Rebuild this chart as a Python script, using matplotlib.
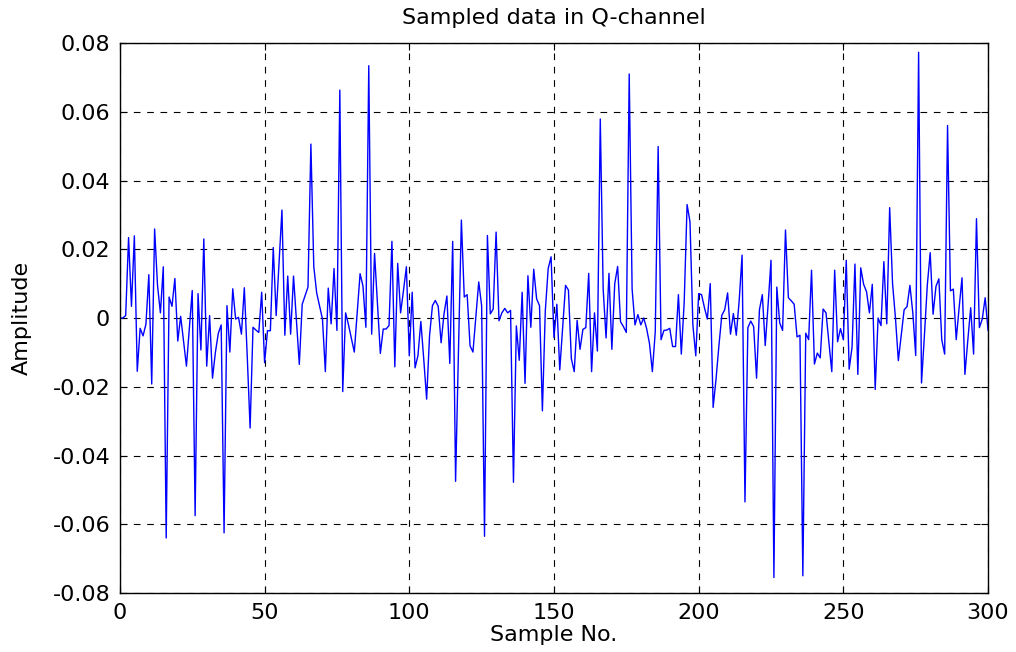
import numpy as np
import matplotlib
matplotlib.use("Agg")
import matplotlib.pyplot as plt

# Q-channel samples, index 0..300
q_samples = [
    0.0, 0.0, 0.0007, 0.0234, 0.0034, 0.0239, -0.0155, -0.003, -0.0052, -0.0018,
    0.0126, -0.0192, 0.0259, 0.0095, 0.0015, 0.0149, -0.064, 0.0061, 0.0034, 0.0115,
    -0.0067, 0.0005, -0.0068, -0.014, -0.003, 0.008, -0.0575, 0.0071, -0.0093, 0.023,
    -0.014, 0.0007, -0.0175, -0.01, -0.0045, -0.002, -0.0625, 0.0036, -0.0099, 0.0085,
    -0.0003, 0.0002, -0.0047, 0.0088, -0.011, -0.032, -0.0027, -0.0035, -0.0042, 0.0075,
    -0.013, -0.0037, -0.0037, 0.0205, 0.0007, 0.016, 0.0314, -0.005, 0.0122, -0.0047,
    0.0122, -0.0007, -0.0135, 0.004, 0.0065, 0.009, 0.0506, 0.015, 0.0073, 0.0035,
    -0.0003, -0.0156, 0.0087, -0.0017, 0.0144, -0.0036, 0.0663, -0.0214, 0.0015, -0.002,
    -0.006, -0.0099, 0.0015, 0.0129, 0.0093, -0.0027, 0.0734, -0.0047, 0.0188, 0.004,
    -0.0103, -0.0032, -0.0032, -0.0022, 0.0223, -0.0142, 0.0159, 0.0015, 0.008, 0.0149,
    -0.011, 0.0075, -0.0145, -0.0109, -0.001, -0.012, -0.0236, -0.0052, 0.0036, 0.0051,
    0.0034, -0.0072, 0.0012, 0.0064, -0.0132, 0.0223, -0.0475, -0.0095, 0.0285, 0.0061,
    0.0068, -0.0081, -0.0099, 0.0003, 0.0105, 0.0036, -0.0635, 0.024, 0.0012, 0.0026,
    0.025, -0.0008, 0.0015, 0.0028, 0.0015, 0.0022, -0.0478, -0.0023, -0.0123, 0.0075,
    -0.019, 0.0123, -0.0027, 0.0142, 0.0056, 0.0036, -0.027, 0.002, 0.0144, 0.0178,
    -0.0057, 0.004, -0.0151, -0.003, 0.0095, 0.0081, -0.0118, -0.0156, -0.0007, -0.0091,
    -0.0033, -0.0028, 0.013, -0.0156, 0.0015, -0.0096, 0.0579, 0.0084, -0.0058, 0.013,
    -0.0091, 0.01, 0.015, -0.0011, -0.0025, -0.0042, 0.071, 0.0084, -0.002, 0.001,
    -0.002, 0.0, -0.003, -0.0074, -0.0156, -0.004, 0.0499, -0.0063, -0.0036, -0.0035,
    -0.003, -0.0083, -0.0083, 0.0068, -0.0105, 0.0046, 0.033, 0.028, -0.002, -0.011,
    0.0071, 0.0068, 0.003, -0.0003, 0.01, -0.026, -0.0178, -0.008, 0.0008, 0.0024,
    0.0073, -0.0047, 0.0013, -0.005, 0.0051, 0.0183, -0.0535, -0.0028, -0.0009, -0.0025,
    -0.0175, 0.0024, 0.0068, -0.008, 0.004, 0.0168, -0.0755, 0.009, -0.0014, -0.0036,
    0.0256, 0.0059, 0.005, 0.004, -0.0055, -0.005, -0.075, -0.0044, -0.0063, 0.0139,
    -0.0134, -0.0102, -0.0116, 0.0026, 0.0015, -0.007, -0.0156, 0.0139, -0.0069, -0.0031,
    -0.0063, 0.0168, -0.0149, -0.0085, 0.0157, -0.0164, 0.0146, 0.0098, 0.0077, 0.0015,
    0.0098, -0.0208, 0.0, -0.0022, 0.0164, -0.0017, 0.0321, 0.01, 0.0, -0.0124,
    -0.005, 0.0024, 0.0033, 0.0095, 0.0015, -0.0109, 0.0773, -0.0189, -0.0052, 0.0095,
    0.019, 0.0011, 0.0092, 0.0114, -0.0063, -0.0105, 0.056, 0.0079, 0.0084, -0.0063,
    0.003, 0.0117, -0.0164, -0.0065, 0.003, -0.0105, 0.0289, -0.0028, -0.0003, 0.0059,
    -0.0036,
]
sample_no = np.arange(len(q_samples))

x_ticks = [0, 50, 100, 150, 200, 250, 300]
y_ticks = [-0.08, -0.06, -0.04, -0.02, 0, 0.02, 0.04, 0.06, 0.08]
y_tick_labels = ['-0.08', '-0.06', '-0.04', '-0.02', '0', '0.02', '0.04', '0.06', '0.08']

plt.rcParams['font.family'] = ['DejaVu Sans']

fig = plt.figure(figsize=(10.16, 6.52), dpi=100)
ax = fig.add_axes([0.118, 0.0905, 0.8545, 0.8435])

ax.plot(sample_no, q_samples, color='#0000ff', linewidth=1.0)

ax.set_xlim(0, 300)
ax.set_ylim(-0.08, 0.08)
ax.set_xticks(x_ticks)
ax.set_yticks(y_ticks)
ax.set_yticklabels(y_tick_labels)
ax.tick_params(direction='in', top=True, right=True, labelsize=16, length=5, width=0.8, pad=7)
ax.grid(True, color='black', linestyle=(0, (6, 6)), linewidth=0.8)
for s in ax.spines.values():
    s.set_linewidth(1.0)

ax.set_title('Sampled data in Q-channel', fontsize=16, pad=14)
ax.set_xlabel('Sample No.', fontsize=16, labelpad=2)
ax.set_ylabel('Amplitude', fontsize=16, labelpad=15)

fig.savefig('out.png', dpi=100)
